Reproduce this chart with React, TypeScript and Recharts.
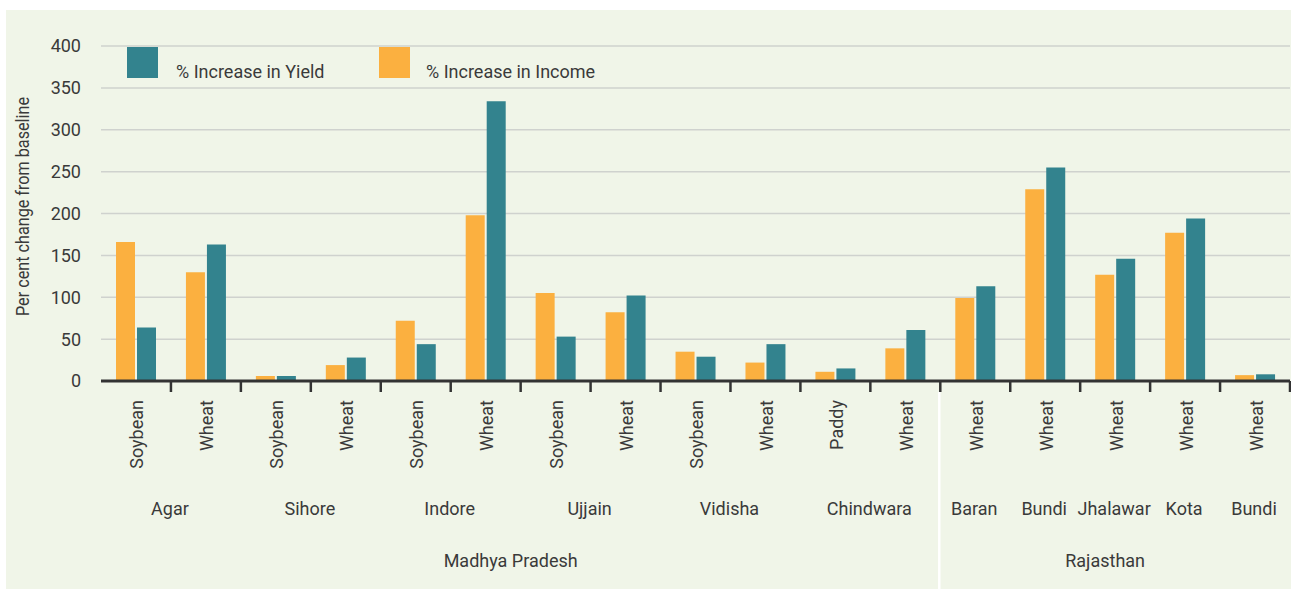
import React from 'react';
import { BarChart, Bar, XAxis, YAxis, CartesianGrid } from 'recharts';

const crops = ['Soybean', 'Wheat', 'Soybean', 'Wheat', 'Soybean', 'Wheat', 'Soybean', 'Wheat', 'Soybean', 'Wheat', 'Paddy', 'Wheat', 'Wheat', 'Wheat', 'Wheat', 'Wheat', 'Wheat'];
const districts = ['Agar', 'Agar', 'Sihore', 'Sihore', 'Indore', 'Indore', 'Ujjain', 'Ujjain', 'Vidisha', 'Vidisha', 'Chindwara', 'Chindwara', 'Baran', 'Bundi', 'Jhalawar', 'Kota', 'Bundi'];
// district group id (to separate the two consecutive-but-distinct entries)
const districtGroups = [0, 0, 1, 1, 2, 2, 3, 3, 4, 4, 5, 5, 6, 7, 8, 9, 10];
const states = ['Madhya Pradesh', 'Madhya Pradesh', 'Madhya Pradesh', 'Madhya Pradesh', 'Madhya Pradesh', 'Madhya Pradesh', 'Madhya Pradesh', 'Madhya Pradesh', 'Madhya Pradesh', 'Madhya Pradesh', 'Madhya Pradesh', 'Madhya Pradesh', 'Rajasthan', 'Rajasthan', 'Rajasthan', 'Rajasthan', 'Rajasthan'];
const incomeIncrease = [166, 130, 6, 19, 72, 198, 105, 82, 35, 22, 11, 39, 99, 229, 127, 177, 7];
const yieldIncrease = [64, 163, 6, 28, 44, 334, 53, 102, 29, 44, 15, 61, 113, 255, 146, 194, 8];
const yTicks = [0, 50, 100, 150, 200, 250, 300, 350, 400];

const seriesNames = { income: '% Increase in Income', yield: '% Increase in Yield' };
const COLORS = { income: '#FBB040', yield: '#33838E' };

const data = crops.map((c, i) => ({
  key: `${i}`,
  crop: c,
  income: incomeIncrease[i],
  yield: yieldIncrease[i],
}));

const CHART_W = 1285;
const CHART_H = 579;
const MARGIN = { top: 36, right: 1, bottom: 0, left: 0 };
const Y_W = 95;
const X_H = 208;
const N = crops.length;
const BW = (CHART_W - MARGIN.left - MARGIN.right - Y_W) / N;
const FONT = 'Roboto, "Open Sans", sans-serif';
const TEXT = '#3a3a3a';
const FS = 18;

function runLength(arr: any[], i: number) {
  let n = 1;
  while (i + n < arr.length && arr[i + n] === arr[i]) n++;
  return n;
}

function CropTick(props: any) {
  const { x, y, payload } = props;
  const i = payload.index;
  const els: any[] = [];
  els.push(<line key="t" x1={x + BW / 2} x2={x + BW / 2} y1={y} y2={y + 11} stroke="#333" strokeWidth={2.5} />);
  els.push(
    <text key="c" transform={`translate(${x + 1},${y + 19}) rotate(-90)`} textAnchor="end" dominantBaseline="central" fontFamily={FONT} fontSize={FS} fill={TEXT}>
      {crops[i]}
    </text>
  );
  if (i === 0 || districtGroups[i] !== districtGroups[i - 1]) {
    const n = runLength(districtGroups, i);
    els.push(
      <text key="d" x={x + ((n - 1) * BW) / 2 - 1} y={y + 127} textAnchor="middle" dominantBaseline="central" fontFamily={FONT} fontSize={FS} fill={TEXT}>
        {districts[i]}
      </text>
    );
  }
  if (i === 0 || states[i] !== states[i - 1]) {
    const n = runLength(states, i);
    els.push(
      <text key="s" x={x + ((n - 1) * BW) / 2 - 10} y={y + 179} textAnchor="middle" dominantBaseline="central" fontFamily={FONT} fontSize={FS} fill={TEXT}>
        {states[i]}
      </text>
    );
    if (i > 0) {
      els.push(<line key="sep" x1={x - BW / 2 - 1} x2={x - BW / 2 - 1} y1={y + 11} y2={y + X_H + 5} stroke="#ffffff" strokeWidth={2.5} />);
    }
  }
  return <g>{els}</g>;
}

function LegendOverlay() {
  return (
    <svg width={520} height={36} style={{ position: 'absolute', left: 121, top: 37, overflow: 'visible' }}>
      <rect x={0} y={0} width={31} height={31} fill={COLORS.yield} />
      <text x={49} y={31} fontFamily={FONT} fontSize={FS} fill={TEXT}>{seriesNames.yield}</text>
      <rect x={252} y={0} width={31} height={31} fill={COLORS.income} />
      <text x={299} y={31} fontFamily={FONT} fontSize={FS} fill={TEXT}>{seriesNames.income}</text>
    </svg>
  );
}

function YLabel(props: any) {
  const vb = props.viewBox || {};
  const cy = vb.y + vb.height / 2 - 7;
  return (
    <text transform={`translate(16,${cy}) rotate(-90)`} textAnchor="middle" dominantBaseline="central" fontFamily={FONT} fontSize={FS} textLength={219} lengthAdjust="spacingAndGlyphs" fill={TEXT}>
      Per cent change from baseline
    </text>
  );
}

export default function App() {
  return (
    <div style={{ position: 'absolute', left: 6, top: 10, width: CHART_W, height: CHART_H, background: '#F0F5E8' }}>
      <BarChart width={CHART_W} height={CHART_H} data={data} margin={MARGIN} barSize={19} barGap={2}>
        <CartesianGrid vertical={false} stroke="#cfd2ce" strokeWidth={1.5} />
        <YAxis
          domain={[0, 400]}
          ticks={yTicks}
          interval={0}
          width={Y_W}
          axisLine={false}
          tickLine={false}
          tickSize={0}
          tickMargin={20}
          tick={{ fontFamily: FONT, fontSize: FS, fill: TEXT }}
          label={<YLabel />}
        />
        <XAxis
          dataKey="key"
          interval={0}
          height={X_H}
          tickSize={0}
          tickMargin={0}
          tickLine={false}
          axisLine={{ stroke: '#333', strokeWidth: 3 }}
          tick={<CropTick />}
        />
        <Bar dataKey="income" name={seriesNames.income} fill={COLORS.income} isAnimationActive={false} />
        <Bar dataKey="yield" name={seriesNames.yield} fill={COLORS.yield} isAnimationActive={false} />
      </BarChart>
      <LegendOverlay />
    </div>
  );
}
